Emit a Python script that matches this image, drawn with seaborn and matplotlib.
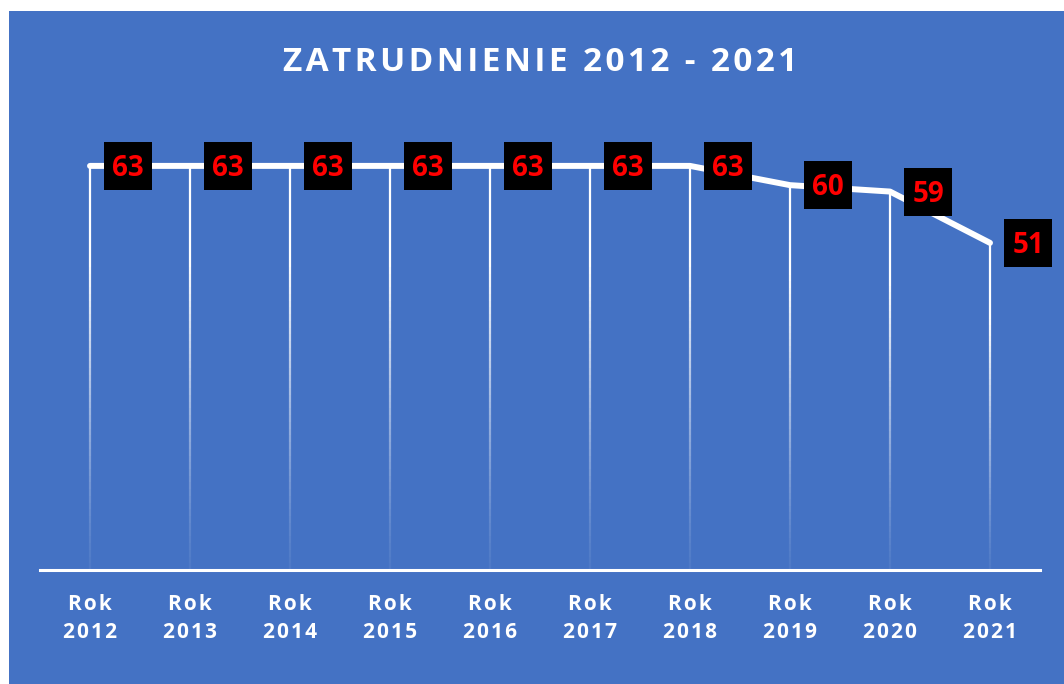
import matplotlib.pyplot as plt
import numpy as np
import pandas as pd
import seaborn as sns
from matplotlib.collections import LineCollection
from matplotlib.patches import Rectangle
from matplotlib.transforms import offset_copy

# Dane
lata = ['2012', '2013', '2014', '2015', '2016', '2017', '2018', '2019', '2020', '2021']
zatrudnienie = [63, 63, 63, 63, 63, 63, 63, 60, 59, 51]
tytul = 'ZATRUDNIENIE 2012 - 2021'

NIEBIESKI = '#4472C4'
HAIR = '\u200a'


def rozstaw(txt):
    # odstepy miedzy literami (jak w oryginale)
    return HAIR.join(txt)


etykiety_osi = [rozstaw('Rok') + '\n' + rozstaw(rok) for rok in lata]

sns.set_style('white')
plt.rcParams['font.family'] = ['Open Sans', 'DejaVu Sans']

df = pd.DataFrame({'idx': np.arange(len(lata)), 'zatrudnienie': zatrudnienie})

fig = plt.figure(figsize=(10.64, 6.84), dpi=100)
fig.patch.set_facecolor('white')
# niebieskie tlo wykresu (bialy margines u gory i z lewej)
fig.patches.append(Rectangle((9 / 1064, 0), 1 - 9 / 1064, 1 - 11 / 684,
                             transform=fig.transFigure, facecolor=NIEBIESKI,
                             edgecolor='none', zorder=-10))

ax = fig.add_axes([40 / 1064, 114 / 684, 1000 / 1064, 449 / 684])
ax.set_facecolor('none')

# linie pionowe z gradientem
segs, cols = [], []
n = 60
for i, v in enumerate(zatrudnienie):
    ys = np.linspace(0, v, n + 1)
    for k in range(n):
        segs.append([(i, ys[k]), (i, ys[k + 1])])
        frac = (k + 0.5) / n
        cols.append((1, 1, 1, min(1.0, 0.05 + 1.3 * frac ** 1.2)))
ax.add_collection(LineCollection(segs, colors=cols, linewidths=1.6, zorder=1))

# linia glowna
sns.lineplot(data=df, x='idx', y='zatrudnienie', color='white', linewidth=4.3,
             solid_capstyle='round', solid_joinstyle='round', ax=ax, zorder=3)

# etykiety danych - czarne kwadraty z czerwonym tekstem
tr_box = offset_copy(ax.transData, fig=fig, x=38, y=0, units='dots')
tr_txt = offset_copy(ax.transData, fig=fig, x=38, y=-10, units='dots')
ax.plot(df['idx'], df['zatrudnienie'], linestyle='none', marker='s',
        markersize=34.8, color='black', markeredgewidth=0, transform=tr_box,
        zorder=4, clip_on=False)
for i, v in enumerate(zatrudnienie):
    ax.text(i, v, str(v), transform=tr_txt, ha='center', va='baseline',
            color='red', fontsize=20, fontweight='bold', zorder=5,
            clip_on=False)

ax.set_xlim(-0.5, 9.5)
ax.set_ylim(0, 70)
ax.set_xticks(range(len(lata)))
ax.set_xticklabels(etykiety_osi, color='white', fontsize=15, fontweight='bold',
                   linespacing=1.42)
ax.tick_params(axis='x', length=0, pad=17.5)
ax.set_yticks([])
ax.set_xlabel('')
ax.set_ylabel('')
for s in ['top', 'left', 'right']:
    ax.spines[s].set_visible(False)
ax.spines['bottom'].set_color('white')
ax.spines['bottom'].set_linewidth(2.2)

fig.text(540 / 1064, 1 - 71 / 684, rozstaw(tytul), color='white',
         fontsize=24, fontweight='bold', ha='center', va='baseline')

plt.savefig('out.png', dpi=100)
plt.close(fig)
